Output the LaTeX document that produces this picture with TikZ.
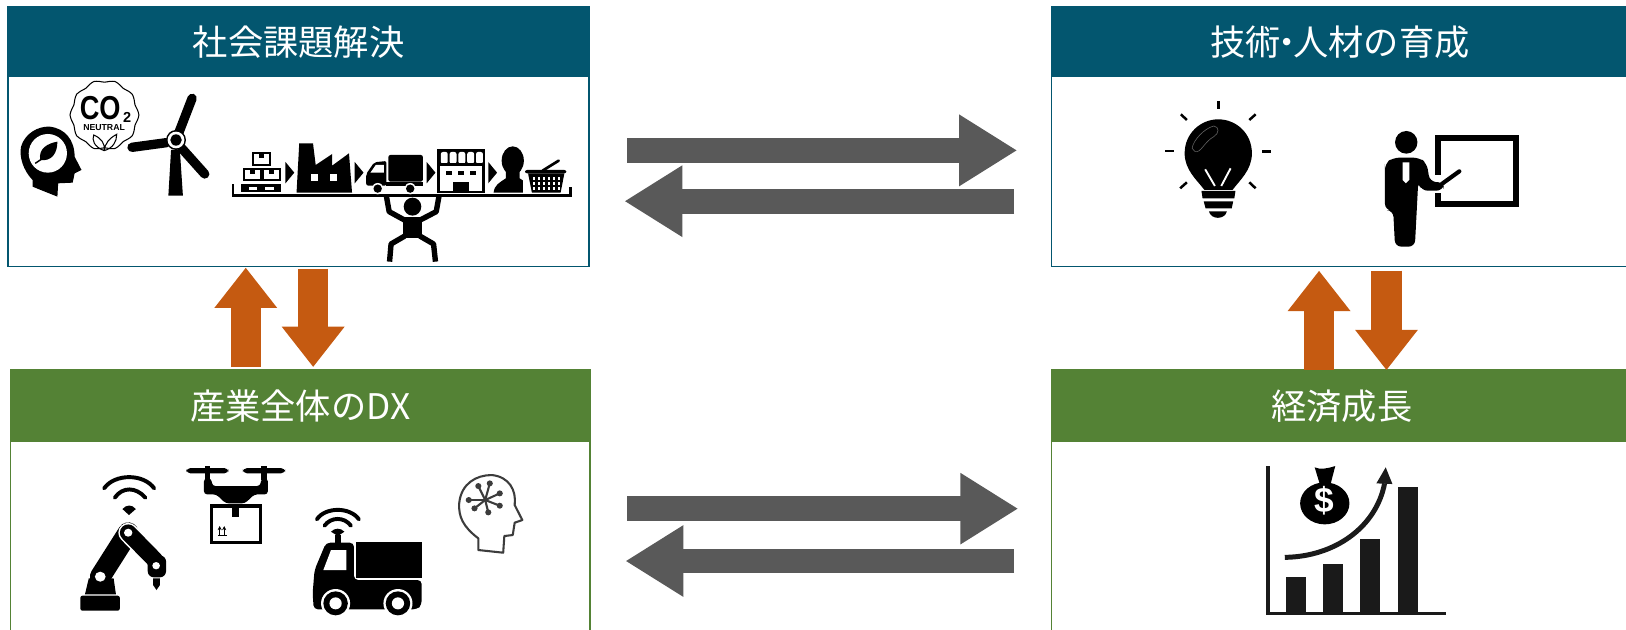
\documentclass[tikz,border=0pt]{standalone}
\usepackage{fontspec}
\usepackage{xcolor}
\setmainfont{Liberation Sans}
\newfontfamily\cjk{Noto Sans CJK JP}
\usetikzlibrary{arrows.meta,positioning,calc}
\definecolor{teal}{HTML}{03566F}
\definecolor{leaf}{HTML}{548235}
\definecolor{rust}{HTML}{C55A11}
\definecolor{slate}{HTML}{595959}
\definecolor{ink}{HTML}{1A1A1A}
\tikzset{
  panel/.style={draw=#1,fill=white,line width=0.8pt,anchor=north west,inner sep=0pt,outer sep=0pt},
  heading/.style={fill=#1,anchor=north west,inner sep=0pt,outer sep=0pt,text=white,font=\cjk\fontsize{17}{20}\selectfont},
  greyblock/.style={draw=slate,line width=12pt,-{Triangle[length=28pt,width=32.5pt]}},
  rustblock/.style={draw=rust,line width=14.5pt,-{Triangle[length=19.5pt,width=29pt]}},
  solid ink/.style={fill=black,draw=none},
  cutout/.style={fill=white,draw=none},
  icontl/.style={xscale=.369,yscale=.3214},
  icontr/.style={shift={(1002.9,0)},xscale=.3604,yscale=.3214},
  iconbl/.style={shift={(0,347.2)},xscale=.369,yscale=.3214},
  iconbr/.style={shift={(1002.9,347.2)},xscale=.3604,yscale=.3214},
  waves/.style={line width=1.9pt,line cap=round}
}
\begin{document}
\begin{tikzpicture}[x=0.5pt,y=-0.5pt]
\useasboundingbox (0,0) rectangle (1568,607);
\clip (0,0) rectangle (1568,607);
% panels
\node[panel=teal,minimum width=280pt,minimum height=125pt] (solvebody) at (8,7) {};
\node[heading=teal,minimum width=280pt,minimum height=33.5pt] (solvehead) at (8,7) {社会課題解決};
\node[panel=teal,minimum width=278pt,minimum height=125pt] (skillbody) at (1014,7) {};
\node[heading=teal,minimum width=278pt,minimum height=33.5pt] (skillhead) at (1014,7) {技術\kern-.32em・\kern-.32em人材の育成};
\node[panel=leaf,minimum width=279.5pt,minimum height=140pt] (dxbody) at (10,357) {};
\node[heading=leaf,minimum width=279.5pt,minimum height=34.5pt] (dxhead) at (10,357) {産業全体のDX};
\node[panel=leaf,minimum width=280pt,minimum height=140pt] (growbody) at (1014,357) {};
\node[heading=leaf,minimum width=280pt,minimum height=34.5pt] (growhead) at (1014,357) {経済成長};
% grey arrows
\coordinate (tra) at (605,145); \coordinate (trb) at (981,145);
\coordinate (tla) at (978,194); \coordinate (tlb) at (602,194);
\coordinate (bra) at (605,490.5); \coordinate (brb) at (982,490.5);
\coordinate (bla) at (978,541); \coordinate (blb) at (603,541);
\draw[greyblock] (tra) -- (trb);
\draw[greyblock] (tla) -- (tlb);
\draw[greyblock] (bra) -- (brb);
\draw[greyblock] (bla) -- (blb);
% rust arrows
\coordinate (lua) at (237,354); \coordinate (lub) at (237,258);
\coordinate (lda) at (302,259); \coordinate (ldb) at (302,354);
\coordinate (rua) at (1272,357); \coordinate (rub) at (1272,261);
\coordinate (rda) at (1337,261); \coordinate (rdb) at (1337,357);
\draw[rustblock] (lua) -- (lub);
\draw[rustblock] (lda) -- (ldb);
\draw[rustblock] (rua) -- (rub);
\draw[rustblock] (rda) -- (rdb);
% social issues icons
\begin{scope}[icontl]
\fill[solid ink] (150,590) -- (85,560) -- (85,540) .. controls (60,510) and (50,470) .. (55,440) .. controls (65,400) and (100,378) .. (130,380) .. controls (170,385) and (195,420) .. (195,470) -- (213,510) -- (195,520) -- (190,548) -- (152,550) -- cycle;
\fill[cutout] (125,460) circle[x radius=50,y radius=58];
\fill[solid ink] (105,480) .. controls (100,445) and (125,430) .. (150,425) .. controls (150,460) and (135,485) .. (105,480);
\draw[line width=0.7pt] (92,490) -- (108,478);
\draw[line width=0.5pt,fill=white] plot[smooth cycle,domain=0:351,samples=40] ({273+87*(1+0.035*cos(10*\x))*cos(\x)},{345+102*(1+0.035*cos(10*\x))*sin(\x)});
\node[font=\bfseries\fontsize{16}{16}\selectfont,xscale=.82,inner sep=0pt] (co) at (262,323) {CO};
\node[font=\bfseries\fontsize{7}{7}\selectfont,inner sep=0pt] (cotwo) at (332,352) {2};
\node[font=\bfseries\fontsize{4.2}{4.2}\selectfont,inner sep=0pt] (neutral) at (272,383) {NEUTRAL};
\draw[line width=0.5pt] (272,452) .. controls (245,440) and (240,420) .. (245,405) .. controls (265,415) and (275,430) .. (272,452) .. controls (275,430) and (285,415) .. (305,403) .. controls (305,425) and (295,445) .. (272,452);
% turbine
\fill[solid ink] (447,450) -- (470,450) -- (478,587) -- (440,587) -- cycle;
\draw[line width=4.5pt,line cap=round] (465,405) -- (502,295);
\draw[line width=4.5pt,line cap=round] (435,428) -- (345,442);
\draw[line width=4.5pt,line cap=round] (475,445) -- (535,522);
\fill[solid ink] (460,420) circle[x radius=26,y radius=30];
\fill[cutout] (460,420) circle[x radius=22,y radius=25];
\fill[solid ink] (460,420) circle[x radius=15,y radius=17];
% shelf
\fill[solid ink] (605,552) rectangle (611,590);
\fill[solid ink] (605,583) rectangle (1494,590);
\fill[solid ink] (1488,562) rectangle (1494,590);
% boxes
\draw[line width=1.1pt] (661,459) rectangle (706,495);
\draw[line width=1.1pt] (637,506) rectangle (682,541);
\draw[line width=1.1pt] (687,506) rectangle (732,541);
\fill[solid ink] (677,460) rectangle (690,475);
\fill[solid ink] (653,507) rectangle (666,522);
\fill[solid ink] (703,507) rectangle (716,522);
\fill[solid ink] (630,552) rectangle (735,560);
\fill[solid ink] (630,570) rectangle (735,577);
\foreach \x in {630,672,715} {\fill[solid ink] (\x,560) rectangle ++(20,10);}
% chevrons
\foreach \x/\y in {746/518,927/518,1115/518,1276/518} {\fill[solid ink] (\x,\y-32) -- (\x+23,\y) -- (\x,\y+32) -- cycle;}
% factory
\fill[solid ink] (775,578) -- (782,430) -- (818,430) -- (825,495) -- (868,462) -- (868,497) -- (912,460) -- (920,578) -- cycle;
\fill[cutout] (812,522) rectangle (830,542);
\fill[cutout] (862,522) rectangle (880,542);
% truck
\fill[solid ink,rounded corners=1pt] (1015,465) rectangle (1105,545);
\fill[solid ink] (1010,545) rectangle (1105,557);
\fill[solid ink,rounded corners=1pt] (957,557) -- (957,522) -- (978,487) -- (1010,483) -- (1010,557) -- cycle;
\fill[cutout] (968,518) -- (982,495) -- (1003,495) -- (1003,518) -- cycle;
\foreach \x in {987,1072} {\fill[cutout] (\x,566) circle[x radius=15,y radius=17]; \fill[solid ink] (\x,566) circle[x radius=11,y radius=12.5];}
% store
\fill[solid ink] (1143,448) rectangle (1267,578);
\fill[cutout] (1150,490) rectangle (1260,572);
\foreach \x in {1150,1173,1196,1219,1242} {\fill[cutout,rounded corners=1pt] (\x+2,456) rectangle ++(18,35);}
\fill[solid ink] (1150,490) rectangle (1260,497);
\foreach \x in {1165,1197,1229} {\fill[solid ink] (\x,512) rectangle ++(16,14);}
\fill[solid ink] (1185,545) rectangle (1225,578);
% shopper
\fill[solid ink] (1340,482) circle[x radius=29,y radius=43];
\fill[solid ink] (1290,578) .. controls (1292,555) and (1305,548) .. (1322,535) -- (1322,505) -- (1358,505) -- (1358,535) .. controls (1370,545) and (1385,550) .. (1392,578) -- cycle;
\fill[cutout] (1368,505) rectangle (1485,580);
\draw[line width=1.3pt,line cap=round] (1418,512) -- (1460,482);
\fill[solid ink,rounded corners=1pt] (1372,510) rectangle (1480,520);
\fill[solid ink] (1380,520) -- (1475,520) -- (1465,578) -- (1390,578) -- cycle;
\foreach \x in {1392,1405,...,1457} {\foreach \y in {530,545,560} {\fill[cutout] (\x,\y) rectangle ++(7,10);}}
% lifter
\fill[solid ink] (1078,620) circle[x radius=23,y radius=27];
\fill[solid ink] (1052,650) rectangle (1103,715);
\draw[line width=2.6pt,line join=round] (1010,590) -- (1017,635) -- (1060,662);
\draw[line width=2.6pt,line join=round] (1147,590) -- (1140,635) -- (1095,662);
\draw[line width=2.6pt,line join=round] (1058,708) -- (1022,732) -- (1018,785);
\draw[line width=2.6pt,line join=round] (1097,708) -- (1133,732) -- (1138,785);
\end{scope}
% dx icons
\begin{scope}[iconbl]
% robot arm
\fill[solid ink,rounded corners=1pt] (210,707) rectangle (313,752);
\fill[solid ink] (222,703) -- (232,655) -- (297,655) -- (303,703) -- cycle;
\draw[line width=10pt,line cap=round] (262,650) -- (335,518);
\draw[white,line width=9.5pt,line cap=round] (335,518) -- (405,600);
\draw[line width=8pt,line cap=round] (335,518) -- (405,600);
\fill[cutout] (262,650) circle[x radius=14,y radius=15];
\fill[cutout] (335,518) circle[x radius=11,y radius=12];
\fill[solid ink,rounded corners=3pt] (386,586) rectangle (434,652);
\fill[cutout] (408,617) circle[x radius=10,y radius=11];
\fill[solid ink] (400,655) -- (418,655) -- (418,675) -- (409,690) -- (400,675) -- cycle;
\draw[waves] (272,385) .. controls (300,340) and (375,340) .. (403,385);
\draw[waves] (300,413) .. controls (320,380) and (355,380) .. (380,413);
\fill[solid ink] (320,447) .. controls (330,433) and (345,433) .. (355,447) -- (337,465) -- cycle;
% drone
\fill[solid ink,rounded corners=2pt] (487,324) rectangle (597,340);
\fill[solid ink,rounded corners=2pt] (635,324) rectangle (745,340);
\fill[solid ink] (535,318) rectangle (550,360);
\fill[solid ink] (683,318) rectangle (698,360);
\fill[solid ink,rounded corners=1.5pt] (533,355) -- (552,355) -- (555,378) -- (680,378) -- (683,355) -- (700,355) -- (700,403) -- (665,403) -- (640,430) -- (590,430) -- (565,403) -- (533,403) -- cycle;
\draw[line width=1.6pt] (552,438) rectangle (680,547);
\fill[solid ink] (607,445) rectangle (625,470);
\foreach \x in {574,586} {\draw[line width=0.5pt,-{Stealth[length=2pt,width=2pt]}] (\x,525) -- (\x,498);}
\draw[line width=0.5pt] (570,525) -- (592,525);
% van
\fill[solid ink] (930,545) rectangle (1102,653);
\fill[solid ink,rounded corners=2pt] (820,748) -- (817,700) -- (822,630) -- (852,548) -- (925,548) -- (925,660) -- (1102,660) -- (1102,735) -- (1090,748) -- cycle;
\fill[cutout] (845,630) -- (865,570) -- (905,570) -- (905,630) -- cycle;
\fill[solid ink] (875,525) rectangle (890,548);
\foreach \x in {877,1040} {\fill[cutout] (\x,730) circle[x radius=38,y radius=43]; \fill[solid ink] (\x,730) circle[x radius=32,y radius=36]; \fill[cutout] (\x,730) circle[x radius=16,y radius=18];}
\draw[waves] (828,478) .. controls (850,440) and (915,440) .. (938,478);
\draw[waves] (848,497) .. controls (865,470) and (900,470) .. (917,497);
\fill[solid ink] (865,515) .. controls (875,503) and (890,503) .. (900,515) -- (883,528) -- cycle;
% thinking head
\draw[color=ink!85,line width=1pt,line join=round] (1250,570) -- (1250,535) .. controls (1210,500) and (1198,470) .. (1200,430) .. controls (1205,370) and (1245,345) .. (1285,345) .. controls (1330,350) and (1350,390) .. (1345,435) -- (1365,480) -- (1345,488) -- (1340,525) -- (1318,528) -- (1315,578) -- cycle;
\foreach \x/\y in {1250/378,1280/370,1306/400,1306/437,1276/457,1240/445,1225/420} {\draw[color=ink!85,line width=1pt] (1268,420) -- (\x,\y); \fill[ink!85] (\x,\y) circle[x radius=8,y radius=9];}
\end{scope}
% skill icons
\begin{scope}[icontr]
\fill[solid ink] (440,570) .. controls (420,540) and (387,510) .. (387,460) .. controls (387,400) and (430,358) .. (477,358) .. controls (525,358) and (567,400) .. (567,460) .. controls (567,510) and (535,540) .. (515,570) -- cycle;
\draw[white,line width=0.9pt] (442,508) -- (468,558);
\draw[white,line width=0.9pt] (510,505) -- (485,558);
\draw[ink!70,line width=0.3pt] (407,445) .. controls (410,420) and (440,385) .. (465,378) .. controls (480,380) and (480,400) .. (465,410) .. controls (440,425) and (430,460) .. (415,455) -- cycle;
\fill[solid ink] (432,573) -- (523,573) -- (520,595) -- (435,595) -- cycle;
\fill[solid ink] (438,604) -- (517,604) -- (513,625) -- (443,625) -- cycle;
\fill[solid ink] (452,634) -- (500,634) .. controls (495,660) and (457,660) .. (452,634) -- cycle;
\foreach \xa/\ya/\xb/\yb in {477/303/477/328,377/343/393/360,577/343/560/360,335/453/358/453,595/454/618/454,375/565/393/547,577/565/560/547} {\draw[line width=1.2pt] (\xa,\ya) -- (\xb,\yb);}
% teacher
\draw[line width=2.9pt] (1065,525) -- (1065,414) -- (1274,414) -- (1274,612) -- (1065,612) -- (1065,578);
\fill[solid ink] (980,427) circle[x radius=30,y radius=34];
\fill[solid ink,rounded corners=3pt] (923,510) -- (923,630) -- (945,632) -- (950,740) -- (1003,740) -- (1012,545) -- (1020,572) -- (1078,572) -- (1082,548) -- (1043,545) -- (1035,490) -- (1015,473) -- (945,473) -- (923,490) -- cycle;
\draw[line width=2pt,line cap=round] (1075,552) -- (1122,514);
\fill[cutout] (970,487) -- (988,487) -- (988,540) -- (979,550) -- (970,540) -- cycle;
\end{scope}
% growth icons
\begin{scope}[iconbr]
\draw[color=ink,line width=1.6pt] (610,318) -- (610,760) -- (1085,760);
\foreach \x/\y in {657/652,757/613,857/537,957/381} {\fill[ink] (\x,\y) rectangle (\x+54,757);}
\draw[color=ink,line width=2.4pt] (655,592) .. controls (790,590) and (900,500) .. (922,370);
\fill[ink] (900,370) -- (943,372) -- (925,322) -- cycle;
\fill[solid ink] (762,430) circle[x radius=66,y radius=63];
\fill[solid ink] (748,370) -- (735,322) .. controls (750,330) and (770,325) .. (790,318) -- (778,370) -- cycle;
\node[white,font=\bfseries\fontsize{17}{17}\selectfont,inner sep=0pt] (dollar) at (762,423) {\$};
\end{scope}
\end{tikzpicture}
\end{document}
